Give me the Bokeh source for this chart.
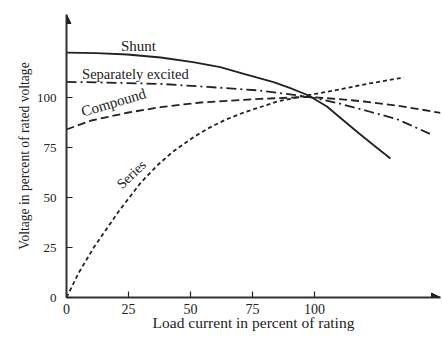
from bokeh.plotting import figure
from bokeh.models import Range1d, FixedTicker, Arrow, NormalHead, Label
from bokeh.embed import file_html
from bokeh.resources import INLINE

# Data
shunt_x = [0, 12, 24.5, 38, 51, 62, 71.5, 83.5, 90, 97.6, 105, 111.7, 118, 124, 130.6]
shunt_y = [122.4, 122.2, 121.5, 120, 117.7, 115.2, 111.8, 107.7, 104.8, 101, 95.5, 88.5, 82, 76, 69.5]

sep_x = [0, 15, 38, 57, 78, 97, 110, 122, 133, 140, 148]
sep_y = [107.8, 107.5, 106.8, 105.3, 103.5, 100.5, 97, 93, 89.3, 85.5, 81]

comp_x = [0, 10, 25, 38, 54, 78, 97, 110, 120, 133, 142, 150.8]
comp_y = [84, 88.5, 92.5, 95.2, 97.5, 99.3, 100.3, 99.2, 98, 96, 94.2, 92.3]

series_x = [0, 5, 11, 16, 21, 30, 37, 43, 51, 57, 64, 71.5, 85, 94, 110, 122, 136]
series_y = [0, 12.5, 25, 34, 43, 57.5, 66.5, 73, 80, 84.5, 88.8, 92.5, 98, 100.3, 104, 107, 110]

x_ticks = [0, 25, 50, 75, 100]
y_ticks = [0, 25, 50, 75, 100]

FONT = "Liberation Serif"
INK = "#222222"

p = figure(width=441, height=338, output_backend="svg", toolbar_location=None,
           x_range=Range1d(0, 150.8), y_range=Range1d(0, 141.5),
           min_border_left=66, min_border_right=1, min_border_top=14, min_border_bottom=41)
p.outline_line_color = None
p.grid.grid_line_color = None
p.background_fill_color = "white"

for ax in (p.xaxis, p.yaxis):
    ax.axis_line_color = "#333333"
    ax.axis_line_width = 2
    ax.major_tick_in = 6
    ax.major_tick_out = 0
    ax.minor_tick_line_color = None
    ax.major_tick_line_color = INK
    ax.major_tick_line_width = 1.2
    ax.major_label_text_font = FONT
    ax.major_label_text_color = INK
    ax.axis_label_text_font = FONT
    ax.axis_label_text_font_style = "normal"
    ax.axis_label_text_color = INK

p.xaxis.ticker = FixedTicker(ticks=x_ticks)
p.yaxis.ticker = FixedTicker(ticks=y_ticks)
p.xaxis.axis_label = "Load current in percent of rating"
p.yaxis.axis_label = "Voltage in percent of rated voltage"
p.xaxis.major_label_text_font_size = "14px"
p.yaxis.major_label_text_font_size = "13px"
p.xaxis.axis_label_text_font_size = "15.5px"
p.yaxis.axis_label_text_font_size = "13.6px"
p.xaxis.major_label_standoff = 6
p.xaxis.axis_label_standoff = -3
p.yaxis.major_label_standoff = 10
p.yaxis.axis_label_standoff = 2

p.line(shunt_x, shunt_y, line_color=INK, line_width=1.8)
p.line(sep_x, sep_y, line_color=INK, line_width=1.8, line_dash="10 4 2 4")
p.line(comp_x, comp_y, line_color=INK, line_width=1.8, line_dash="8 4")
p.line(series_x, series_y, line_color=INK, line_width=1.8, line_dash="4 3")

# arrow heads at ends of axes
p.add_layout(Arrow(end=NormalHead(size=9, fill_color=INK, line_color=INK),
                   x_start=0, y_start=130, x_end=0, y_end=141.5, line_alpha=0))
p.add_layout(Arrow(end=NormalHead(size=9, fill_color=INK, line_color=INK),
                   x_start=135, y_start=0, x_end=150.8, y_end=0, line_alpha=0))

labels = [
    ("Shunt", 29, 126, 0.0, "15px"),
    ("Separately excited", 27.8, 112, 0.0, "14.5px"),
    ("Compound", 19, 97.5, 0.29, "15px"),
    ("Series", 26.2, 61.5, 0.76, "14px"),
]
for txt, x, y, ang, fs in labels:
    p.add_layout(Label(x=x, y=y, text=txt, angle=ang, text_font=FONT,
                       text_font_size=fs, text_color=INK,
                       text_align="center", text_baseline="middle"))

open("out.html", "w").write(file_html(p, INLINE))
